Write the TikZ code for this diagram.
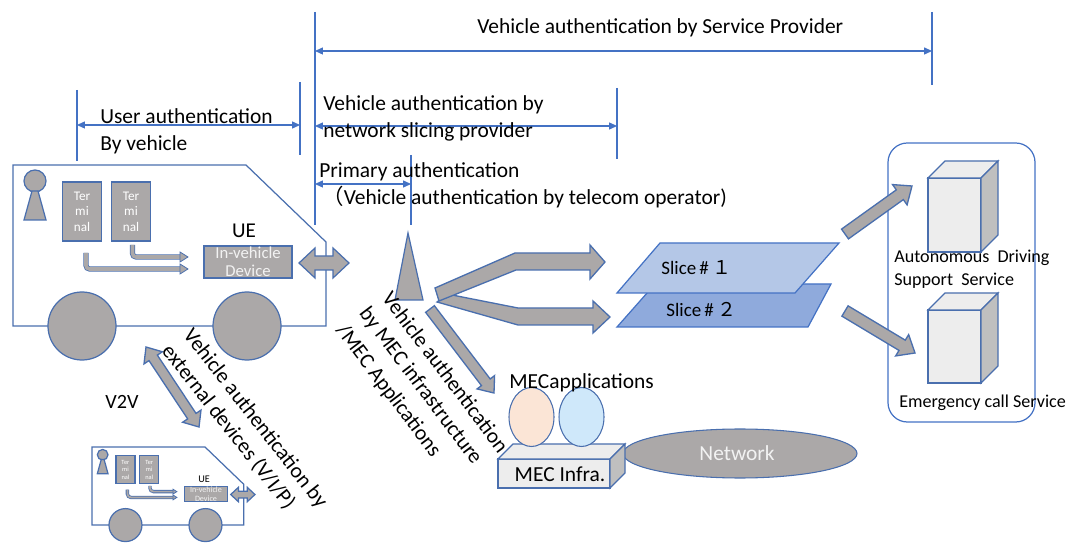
\documentclass[tikz,border=0pt]{standalone}
\usepackage{fontspec}
\setmainfont{Carlito}
\newfontfamily\cjkfont{Noto Sans CJK JP}
\usetikzlibrary{calc,arrows.meta}

\definecolor{shapegray}{HTML}{ABA8A8}
\definecolor{edgeblue}{HTML}{4A6FAE}
\definecolor{dimblue}{HTML}{4472C4}
\definecolor{sliceA}{HTML}{B4C7E7}
\definecolor{sliceB}{HTML}{8FAADC}
\definecolor{boxface}{HTML}{EDEDED}
\definecolor{boxside}{HTML}{BFBFBF}
\definecolor{apppink}{HTML}{FBE5D6}
\definecolor{appblue}{HTML}{CFE8FA}
\definecolor{paletext}{HTML}{F2F2F2}

\newcommand\fs[2]{\fontsize{#1}{#2}\selectfont}

% straight block arrow: #1 tail, #2 tip, #3 shaft half width, #4 head half width, #5 head length
\newcommand\blockarrow[5]{%
  \coordinate (ba-h) at ($(#2)!#5!(#1)$);
  \draw[blockarr] ($(#1)!#3!90:(#2)$) -- ($(ba-h)!#3!-90:(#1)$) -- ($(ba-h)!#4!-90:(#1)$)
    -- (#2) -- ($(ba-h)!#4!90:(#1)$) -- ($(ba-h)!#3!90:(#1)$) -- ($(#1)!#3!-90:(#2)$) -- cycle;
}
% block arrow with a head at both ends
\newcommand\dblockarrow[5]{%
  \coordinate (ba-h1) at ($(#2)!#5!(#1)$);
  \coordinate (ba-h2) at ($(#1)!#5!(#2)$);
  \draw[blockarr] (#1) -- ($(ba-h2)!#4!90:(#2)$) -- ($(ba-h2)!#3!90:(#2)$)
    -- ($(ba-h1)!#3!-90:(#1)$) -- ($(ba-h1)!#4!-90:(#1)$) -- (#2)
    -- ($(ba-h1)!#4!90:(#1)$) -- ($(ba-h1)!#3!90:(#1)$)
    -- ($(ba-h2)!#3!-90:(#2)$) -- ($(ba-h2)!#4!-90:(#2)$) -- cycle;
}
% box with a visible top and right face: #1 x, #2 y (front top-left), #3 width, #4 height, #5 depth
\newcommand\solidbox[5]{%
  \draw[boxedge, fill=boxface] (#1,#2) rectangle ++(#3,#4);
  \draw[boxedge, fill=boxface] (#1,#2) -- ++(#5,-#5) -- ++(#3,0) -- ++(-#5,#5) -- cycle;
  \draw[boxedge, fill=boxside] (#1+#3,#2) -- ++(#5,-#5) -- ++(0,#4) -- ++(-#5,#5) -- cycle;
}
% vehicle with passenger, two terminals and the in-vehicle device
% #1 name prefix, #2 top-left corner, #3 scale
\newcommand\vehicle[3]{%
\begin{scope}[shift={#2}, scale=#3, transform shape]
  \pgfmathsetmacro\pipew{3.6*#3*0.5669}%
  \draw[vbody] (0,0) -- (233,0) -- (313,77) -- (313,161) -- (0,161) -- cycle;
  \draw[vpart] (69,161) circle[radius=34];
  \draw[vpart] (234,161) circle[radius=34];
  \draw[vpart] (22,16) circle[radius=11];
  \draw[vpart] (19,26) -- (25,26) -- (33,55) -- (11,55) -- cycle;
  \node[termbox] (#1-t1) at (69,46.5) {Ter\\mi\\nal};
  \node[termbox] (#1-t2) at (118,46.5) {Ter\\mi\\nal};
  \node[font=\fs{12}{14}, inner sep=0pt, anchor=base] (#1-ue) at (231,73) {UE};
  \node[devbox] (#1-dev) at (235,97) {In-vehicle\\Device};
  \draw[double=shapegray, double distance=\pipew pt, draw=edgeblue, line width=0.45pt,
        rounded corners=2pt] (73,88) -- (73,104) -- (168,104);
  \draw[vpart, line width=0.45pt] (167,99) -- (175,104) -- (167,109) -- cycle;
  \draw[double=shapegray, double distance=\pipew pt, draw=edgeblue, line width=0.45pt,
        rounded corners=2pt] (119.5,80) -- (119.5,92) -- (168,92);
  \draw[vpart, line width=0.45pt] (167,87) -- (175,92) -- (167,97) -- cycle;
  \draw[vpart] (286,98) -- (302,83) -- (302,91) -- (320,91) -- (320,83) -- (336,98)
    -- (320,113) -- (320,105) -- (302,105) -- (302,113) -- cycle;
\end{scope}}

\begin{document}
\begin{tikzpicture}[x=0.02cm, y=-0.02cm,
  txt/.style={font=\fs{12.2}{15.5}, inner sep=0pt, text=black},
  smalltxt/.style={font=\fs{10.3}{13}, inner sep=0pt, text=black},
  dimline/.style={draw=dimblue, line width=0.6pt},
  dimarrow/.style={draw=dimblue, line width=0.6pt,
    {Triangle[length=4.5pt,width=4pt]}-{Triangle[length=4.5pt,width=4pt]}},
  vbody/.style={draw=edgeblue, line width=0.7pt},
  vpart/.style={draw=edgeblue, fill=shapegray, line width=0.7pt},
  termbox/.style={draw=edgeblue, fill=shapegray, line width=0.7pt, minimum width=0.78cm,
    minimum height=1.18cm, inner sep=0pt, align=center, text=white, font=\fs{7.5}{8.8}},
  devbox/.style={draw=edgeblue, fill=shapegray, line width=0.7pt, minimum width=1.76cm,
    minimum height=0.64cm, inner sep=0pt, align=center, text=paletext, font=\fs{9.5}{10.2}},
  blockarr/.style={draw=edgeblue, fill=shapegray, line width=0.75pt, line join=miter},
  boxedge/.style={draw=edgeblue, line width=0.7pt},
  slice/.style={draw=dimblue, line width=0.7pt}]
\useasboundingbox (0,0) rectangle (1071,543);

% ---- authentication ranges ----
\draw[dimline] (315,12) -- (315,225);
\draw[dimline] (932,12) -- (932,85);
\coordinate (spL) at (315,51);
\coordinate (spR) at (932,51);
\draw[dimarrow] (spL) -- (spR);
\node[txt, anchor=base west] (sp) at (477,34) {Vehicle authentication by Service Provider};

\draw[dimline] (77,90) -- (77,161);
\draw[dimline] (300,82) -- (300,155);
\coordinate (uaL) at (77,125);
\coordinate (uaR) at (300,125);
\draw[dimarrow] (uaL) -- (uaR);
\node[txt, anchor=base west] (ua1) at (100,124) {User authentication};
\node[txt, anchor=base west] (ua2) at (100,151) {By vehicle};

\draw[dimline] (617,88) -- (617,159);
\coordinate (nsL) at (315,126);
\coordinate (nsR) at (617,126);
\draw[dimarrow] (nsL) -- (nsR);
\node[txt, anchor=base west] (ns1) at (323,111) {Vehicle authentication by};
\node[txt, anchor=base west] (ns2) at (323,138) {network slicing provider};

\draw[dimline] (411,155) -- (411,225);
\coordinate (paL) at (315,184);
\coordinate (paR) at (411,184);
\draw[dimarrow] (paL) -- (paR);
\node[txt, anchor=base west] (pa1) at (319,178) {Primary authentication};
\node[txt, anchor=base west] (pa2) at (322,205) {{\cjkfont （}Vehicle authentication by telecom operator)};

% ---- vehicles ----
\vehicle{car}{(13,165)}{1}
\vehicle{ext}{(92,447)}{0.485}

\node[txt, font=\fs{11.5}{13}] (v2v) at (122,402) {V2V};
\coordinate (v2vA) at (146,347);
\coordinate (v2vB) at (199,427);
\dblockarrow{v2vA}{v2vB}{0.1cm}{0.22cm}{0.26cm}

\node[txt, rotate=-52, anchor=west] (ext1) at (187,332) {Vehicle authentication by};
\node[txt, rotate=-52, anchor=west] (ext2) at (166,347) {external devices (V/I/P)};

% ---- base station ----
\draw[vpart] (408,233) -- (423,300) -- (395,300) -- cycle;
\coordinate (tower) at (409,300);

\node[txt, rotate=-53, anchor=west] (mec1) at (387,294) {Vehicle authentication};
\node[txt, rotate=-53, anchor=west] (mec2) at (363,310) {by MEC infrastructure};
\node[txt, rotate=-53, anchor=west] (mec3) at (340,327) {/MEC Applications};

% branches towards the slices
\draw[blockarr] (447,294) -- (518,308) -- (593,308) -- (593,301) -- (610,317) -- (593,333)
  -- (593,325) -- (518,325) -- (437,302) -- cycle;
\draw[blockarr] (435,288) -- (515,253) -- (590,253) -- (590,245) -- (605,262) -- (590,279)
  -- (590,270) -- (516,270) -- (439,301) -- cycle;

% towards MEC
\coordinate (mecA) at (430,309);
\coordinate (mecB) at (494,393);
\blockarrow{mecA}{mecB}{0.11cm}{0.22cm}{0.27cm}

% ---- network slices ----
\draw[slice, fill=sliceB] (655,284) -- (831,284) -- (808,327) -- (617,327) -- cycle;
\draw[slice, fill=sliceA] (660,243) -- (839,243) -- (795,293) -- (617,293) -- cycle;
\node[smalltxt, anchor=west, font=\fs{10.8}{13}] (sl1) at (661,268) {Slice\,\#\,{\cjkfont １}};
\node[smalltxt, anchor=west, font=\fs{10.8}{13}] (sl2) at (666,309) {Slice\,\#\,{\cjkfont ２}};

% ---- services ----
\draw[dimline, line width=0.7pt, rounded corners=11pt] (888,143) rectangle (1035,422);
\solidbox{928}{178}{53}{74}{17}
\solidbox{928}{310}{53}{73}{17}
\node[smalltxt, anchor=base west] (ads1) at (894,263) {Autonomous\ \ Driving};
\node[smalltxt, anchor=base west] (ads2) at (894,286) {Support\ \ Service};
\node[smalltxt, anchor=base west] (ecs) at (899,408) {Emergency call Service};

\coordinate (s1A) at (845,234);
\coordinate (s1B) at (912,186);
\blockarrow{s1A}{s1B}{0.12cm}{0.25cm}{0.3cm}
\coordinate (s2A) at (845,311);
\coordinate (s2B) at (915,353);
\blockarrow{s2A}{s2B}{0.12cm}{0.25cm}{0.3cm}

% ---- MEC ----
\draw[vpart, line width=0.6pt] (740,453.5) ellipse[x radius=117, y radius=24.5];
\node[txt, text=paletext] (net) at (737,453) {Network};
\solidbox{498}{459}{112}{29}{15}
\node[txt, anchor=base] (mecinfra) at (560,481) {MEC Infra.};
\draw[draw=edgeblue, fill=apppink, line width=0.6pt] (531.5,417) ellipse[x radius=22.5, y radius=29.5];
\draw[draw=edgeblue, fill=appblue, line width=0.6pt] (581.5,417) ellipse[x radius=22.5, y radius=29.5];
\node[txt, anchor=base west] (mecapps) at (509,389) {MECapplications};
\end{tikzpicture}
\end{document}
